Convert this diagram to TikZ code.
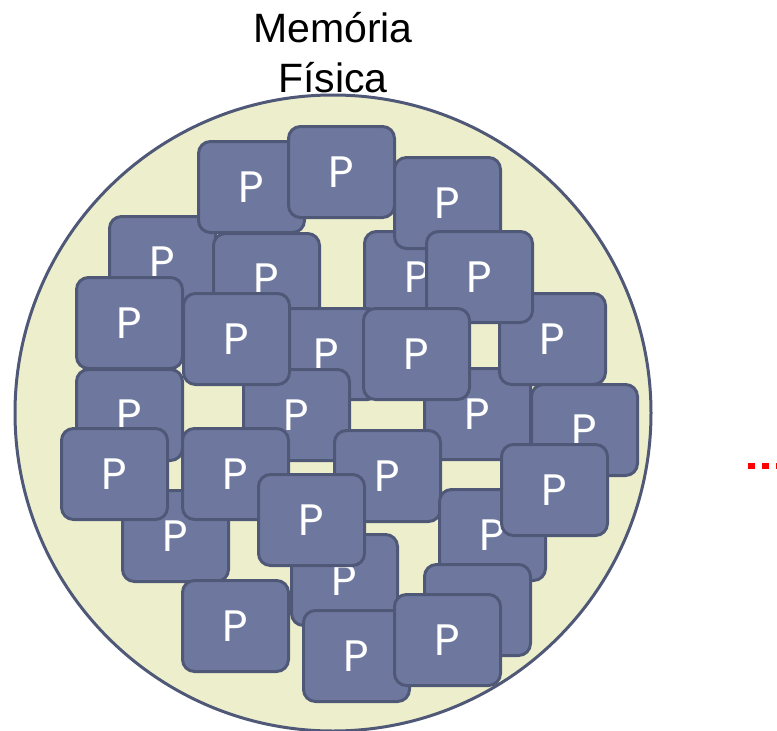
\documentclass[tikz,border=0pt]{standalone}
\usepackage{fontspec}
\setmainfont{Liberation Sans}
\newfontfamily\pagefont{Poppins}
\definecolor{memfill}{HTML}{EDEFCC}
\definecolor{memline}{HTML}{505878}
\definecolor{pagefill}{HTML}{6E789E}
\tikzset{
  pagebox/.style={draw=memline, fill=pagefill, line width=3pt, rounded corners=12pt,
    minimum width=106pt, minimum height=91pt, inner sep=0pt, anchor=north west,
    text=white, font=\pagefont\fontsize{44}{44}\selectfont},
  title/.style={font=\fontsize{41}{41}\selectfont, anchor=base, inner sep=0pt},
  memory/.style={draw=memline, fill=memfill, line width=3pt, circle, inner sep=0pt,
    minimum size=636pt}
}
\begin{document}
\begin{tikzpicture}[x=1pt, y=-1pt]
  \useasboundingbox (0,0) rectangle (777,731);
  % physical memory area
  \node[memory] (mem) at (333,413) {};
  % title
  \node[title] (t1) at (333,42) {Memória};
  \node[title] (t2) at (333,92) {Física};
  % pages, from back to front
  \foreach \n/\x/\y in {
    pH/108/215, pA/197/140, pB/287/125, pD/212/232, pF/363/230, pC/393/156,
    pW/423/367, pY/498/292, pG/425/230, pX/530/383, pJ/272/307, pK/362/307,
    pL/242/368, pM/75/368, pI/75/276, pE/182/292, pQ/121/489, pN/60/427,
    pO/181/427, pV/333/429, pS/290/533, pR/257/473, pT/181/579, pU/302/609,
    pAA/438/488, pZ/500/443, pAB/423/563, pAC/393/593}
    \node[pagebox] (\n) at (\x,\y) {P};
  % outgoing dotted link
  \coordinate (linkA) at (748,466);
  \coordinate (linkB) at (777,466);
  \draw[red, line width=6pt, dash pattern=on 7pt off 7pt] (linkA) -- (linkB);
\end{tikzpicture}
\end{document}
